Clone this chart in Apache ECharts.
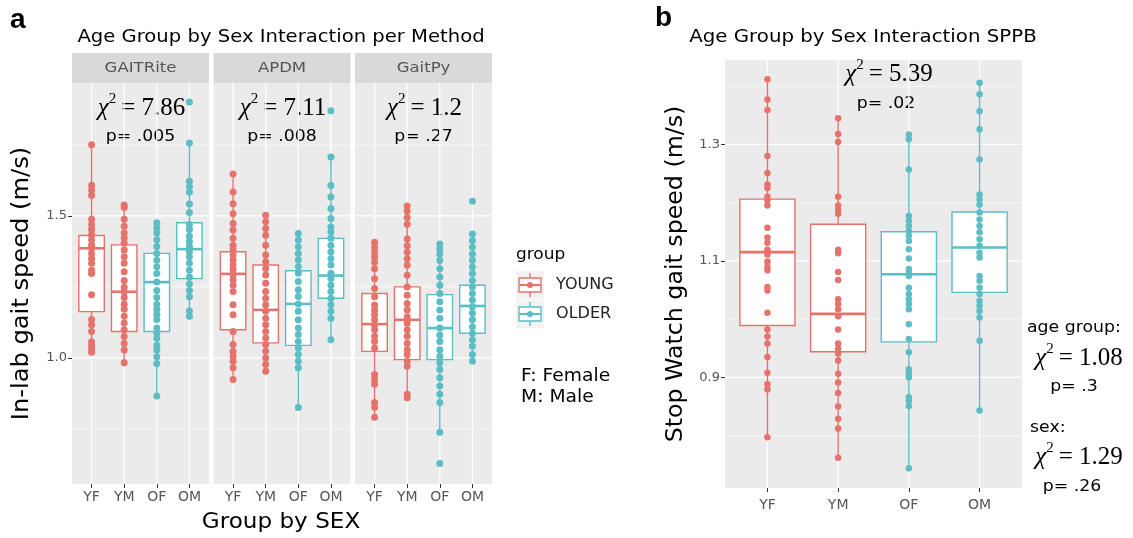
<!DOCTYPE html>
<html>
<head>
<meta charset="utf-8">
<script src="https://cdn.jsdelivr.net/npm/echarts@6/dist/echarts.min.js"></script>
<style>
  html, body { margin: 0; padding: 0; background: #fff; }
  #chart { width: 1133px; height: 538px; }
</style>
</head>
<body>
<div id="chart"></div>
<script>
// ---- data -------------------------------------------------------------
const categories = ['YF', 'YM', 'OF', 'OM'];
const methods = ['GAITRite', 'APDM', 'GaitPy'];

// in-lab gait speed (m/s), one value per participant
const gaitriteYF = [1.751, 1.608, 1.59, 1.572, 1.488, 1.47, 1.452, 1.434, 1.416, 1.398, 1.386, 1.368, 1.35, 1.333, 1.309, 1.297, 1.222, 1.135, 1.117, 1.093, 1.057, 1.045, 1.033, 1.02];
const gaitriteYM = [1.538, 1.53, 1.488, 1.464, 1.44, 1.422, 1.404, 1.38, 1.356, 1.333, 1.303, 1.273, 1.249, 1.233, 1.213, 1.189, 1.171, 1.147, 1.123, 1.099, 1.075, 1.051, 1.028, 0.983];
const gaitriteOF = [1.476, 1.458, 1.44, 1.416, 1.392, 1.368, 1.344, 1.321, 1.297, 1.267, 1.237, 1.213, 1.189, 1.171, 1.153, 1.135, 1.105, 1.087, 1.069, 1.045, 1.028, 1.004, 0.98, 0.866];
const gaitriteOM = [1.901, 1.757, 1.622, 1.602, 1.584, 1.542, 1.512, 1.47, 1.452, 1.428, 1.41, 1.392, 1.374, 1.356, 1.333, 1.309, 1.285, 1.261, 1.237, 1.215, 1.165, 1.147];

const apdmYF = [1.648, 1.584, 1.543, 1.508, 1.473, 1.45, 1.421, 1.397, 1.38, 1.362, 1.345, 1.327, 1.31, 1.292, 1.275, 1.257, 1.234, 1.187, 1.152, 1.093, 1.047, 1.023, 1.006, 0.988, 0.965, 0.924];
const apdmYM = [1.502, 1.479, 1.456, 1.432, 1.397, 1.362, 1.339, 1.315, 1.292, 1.263, 1.234, 1.21, 1.187, 1.164, 1.14, 1.117, 1.093, 1.07, 1.047, 1.023, 1.0, 0.977, 0.953];
const apdmOF = [1.438, 1.415, 1.391, 1.368, 1.345, 1.321, 1.298, 1.269, 1.24, 1.216, 1.19, 1.164, 1.134, 1.105, 1.082, 1.058, 1.035, 1.012, 0.988, 0.965, 0.825];
const apdmOM = [1.87, 1.707, 1.607, 1.567, 1.526, 1.491, 1.461, 1.444, 1.421, 1.397, 1.374, 1.35, 1.327, 1.298, 1.28, 1.257, 1.234, 1.21, 1.187, 1.164, 1.14, 1.064];

const gaitpyYF = [1.407, 1.39, 1.372, 1.355, 1.337, 1.314, 1.279, 1.244, 1.215, 1.186, 1.169, 1.151, 1.134, 1.116, 1.099, 1.076, 1.058, 1.035, 0.942, 0.924, 0.907, 0.843, 0.826, 0.791];
const gaitpyYM = [1.535, 1.517, 1.494, 1.471, 1.419, 1.395, 1.372, 1.349, 1.326, 1.291, 1.25, 1.221, 1.192, 1.169, 1.145, 1.122, 1.099, 1.076, 1.052, 1.029, 1.012, 0.988, 0.971, 0.872, 0.86];
const gaitpyOF = [1.401, 1.384, 1.366, 1.343, 1.314, 1.285, 1.256, 1.227, 1.198, 1.169, 1.14, 1.105, 1.081, 1.058, 1.029, 1.006, 0.983, 0.959, 0.93, 0.901, 0.872, 0.843, 0.738, 0.628];
const gaitpyOM = [1.552, 1.436, 1.413, 1.39, 1.366, 1.343, 1.32, 1.297, 1.273, 1.25, 1.227, 1.203, 1.18, 1.157, 1.134, 1.11, 1.087, 1.064, 1.041, 1.012, 0.988];

// stop-watch gait speed (m/s) from the SPPB
const sppbYF = [1.412, 1.377, 1.359, 1.28, 1.251, 1.231, 1.225, 1.21, 1.204, 1.195, 1.157, 1.14, 1.131, 1.119, 1.111, 1.099, 1.09, 1.084, 1.055, 1.049, 1.011, 0.982, 0.97, 0.958, 0.935, 0.908, 0.888, 0.879, 0.797];
const sppbYM = [1.345, 1.318, 1.304, 1.21, 1.195, 1.187, 1.181, 1.119, 1.113, 1.081, 1.067, 1.034, 1.026, 1.017, 1.005, 0.982, 0.958, 0.949, 0.941, 0.929, 0.906, 0.891, 0.873, 0.85, 0.829, 0.812, 0.762];
const sppbOF = [1.317, 1.309, 1.257, 1.177, 1.169, 1.16, 1.151, 1.143, 1.134, 1.12, 1.104, 1.086, 1.08, 1.074, 1.054, 1.043, 1.034, 1.026, 1.017, 0.991, 0.966, 0.943, 0.914, 0.906, 0.9, 0.866, 0.86, 0.851, 0.744];
const sppbOM = [1.406, 1.386, 1.357, 1.326, 1.274, 1.214, 1.206, 1.197, 1.183, 1.171, 1.16, 1.149, 1.137, 1.126, 1.114, 1.106, 1.074, 1.066, 1.054, 1.043, 1.031, 1.023, 1.014, 1.003, 0.963, 0.843];

// box statistics per group: [lower whisker, Q1, median, Q3, upper whisker]
const gaitriteBoxes = [[1.02, 1.163, 1.386, 1.431, 1.751], [0.983, 1.093, 1.233, 1.398, 1.538], [0.866, 1.093, 1.267, 1.368, 1.476], [1.147, 1.279, 1.383, 1.476, 1.757]];
const apdmBoxes = [[0.924, 1.099, 1.296, 1.374, 1.648], [0.953, 1.053, 1.169, 1.327, 1.502], [0.825, 1.044, 1.19, 1.307, 1.438], [1.064, 1.21, 1.29, 1.421, 1.707]];
const gaitpyBoxes = [[0.791, 1.023, 1.119, 1.227, 1.407], [0.86, 0.994, 1.134, 1.25, 1.535], [0.738, 0.994, 1.105, 1.223, 1.401], [0.988, 1.087, 1.183, 1.256, 1.436]];
const sppbBoxes = [[0.797, 0.989, 1.115, 1.206, 1.412], [0.762, 0.944, 1.009, 1.163, 1.345], [0.744, 0.961, 1.077, 1.15, 1.317], [0.843, 1.046, 1.123, 1.184, 1.406]];

// interaction tests
const methodChi = ['7.86', '7.11', '1.2'];
const methodP = ['.005', '.008', '.27'];
const sppbChi = '5.39';
const sppbP = '.02';
const ageGroupChi = '1.08';
const ageGroupP = '.3';
const sexChi = '1.29';
const sexP = '.26';

// axis ticks
const methodTicks = [1.0, 1.5];
const methodMinor = [0.75, 1.25, 1.75];
const methodRange = [0.556, 1.968];
const sppbTicks = [0.9, 1.1, 1.3];
const sppbMinor = [0.8, 1.0, 1.2, 1.4];
const sppbRange = [0.71, 1.445];

const groupNames = ['YOUNG', 'OLDER'];

// ---- styling ----------------------------------------------------------
const RED = '#E5736C';
const TEAL = '#5CBEC5';
const groupColor = [RED, RED, TEAL, TEAL];
const FONT = 'DejaVu Sans';
const SERIF = 'Liberation Serif';
const PANEL_BG = '#EBEBEB';
const STRIP_BG = '#D9D9D9';

const methodPoints = [
  [gaitriteYF, gaitriteYM, gaitriteOF, gaitriteOM],
  [apdmYF, apdmYM, apdmOF, apdmOM],
  [gaitpyYF, gaitpyYM, gaitpyOF, gaitpyOM]
];
const methodBoxes = [gaitriteBoxes, apdmBoxes, gaitpyBoxes];

const X_MIN = 0.4, X_MAX = 4.6, BOX_W = 0.78;

const panels = [
  { left: 72, top: 83, width: 137, height: 401, range: methodRange, ticks: methodTicks, minor: methodMinor,
    points: methodPoints[0], boxes: methodBoxes[0], showY: true, dot: 7, labelGap: 6 },
  { left: 213.5, top: 83, width: 137, height: 401, range: methodRange, ticks: methodTicks, minor: methodMinor,
    points: methodPoints[1], boxes: methodBoxes[1], showY: false, dot: 7, labelGap: 6 },
  { left: 355, top: 83, width: 137, height: 401, range: methodRange, ticks: methodTicks, minor: methodMinor,
    points: methodPoints[2], boxes: methodBoxes[2], showY: false, dot: 7, labelGap: 6 },
  { left: 725, top: 60, width: 297, height: 428, range: sppbRange, ticks: sppbTicks, minor: sppbMinor,
    points: [sppbYF, sppbYM, sppbOF, sppbOM], boxes: sppbBoxes, showY: true, dot: 6.5, labelGap: 10 }
];

function gridLineRenderer(range) {
  return function (params, api) {
    const dir = api.value(0), v = api.value(1), major = api.value(2);
    let p1, p2;
    if (dir === 0) { p1 = api.coord([X_MIN, v]); p2 = api.coord([X_MAX, v]); }
    else { p1 = api.coord([v, range[0]]); p2 = api.coord([v, range[1]]); }
    return {
      type: 'line', silent: true,
      shape: { x1: p1[0], y1: p1[1], x2: p2[0], y2: p2[1] },
      style: { stroke: '#FFFFFF', lineWidth: major ? 1.3 : 0.6 }
    };
  };
}

function boxRenderer(params, api) {
  const x = api.value(0);
  const lo = api.coord([x, api.value(1)]);
  const q1 = api.coord([x, api.value(2)]);
  const md = api.coord([x, api.value(3)]);
  const q3 = api.coord([x, api.value(4)]);
  const hi = api.coord([x, api.value(5)]);
  const half = api.size([BOX_W, 0])[0] / 2;
  const c = groupColor[api.value(6)];
  return {
    type: 'group',
    children: [
      { type: 'line', shape: { x1: lo[0], y1: lo[1], x2: q1[0], y2: q1[1] }, style: { stroke: c, lineWidth: 1.4 } },
      { type: 'line', shape: { x1: q3[0], y1: q3[1], x2: hi[0], y2: hi[1] }, style: { stroke: c, lineWidth: 1.4 } },
      { type: 'rect', shape: { x: q3[0] - half, y: q3[1], width: half * 2, height: q1[1] - q3[1] },
        style: { fill: '#FFFFFF', stroke: c, lineWidth: 1.4 } },
      { type: 'line', shape: { x1: md[0] - half, y1: md[1], x2: md[0] + half, y2: md[1] }, style: { stroke: c, lineWidth: 2.6 } }
    ]
  };
}

const grid = [], xAxis = [], yAxis = [], series = [];
panels.forEach(function (p, i) {
  grid.push({ left: p.left, top: p.top, width: p.width, height: p.height, show: true,
    backgroundColor: PANEL_BG, borderWidth: 0, containLabel: false });
  xAxis.push({
    gridIndex: i, type: 'value', min: X_MIN, max: X_MAX,
    axisLine: { show: false }, splitLine: { show: false },
    axisTick: { show: true, customValues: [1, 2, 3, 4], length: 4, lineStyle: { color: '#333', width: 1 } },
    axisLabel: { customValues: [1, 2, 3, 4], formatter: function (v) { return categories[Math.round(v) - 1]; },
      color: '#555', fontSize: 14, fontFamily: FONT, margin: p.labelGap }
  });
  yAxis.push({
    gridIndex: i, type: 'value', min: p.range[0], max: p.range[1],
    axisLine: { show: false }, splitLine: { show: false },
    axisTick: { show: p.showY, customValues: p.ticks, length: 4, lineStyle: { color: '#333', width: 1 } },
    axisLabel: { show: p.showY, customValues: p.ticks, formatter: function (v) { return v.toFixed(1); },
      color: '#555', fontSize: 13, fontFamily: FONT, margin: 5 }
  });

  const lines = [];
  p.ticks.forEach(function (v) { lines.push([0, v, 1]); });
  p.minor.forEach(function (v) { lines.push([0, v, 0]); });
  categories.forEach(function (c, k) { lines.push([1, k + 1, 1]); });
  series.push({ type: 'custom', xAxisIndex: i, yAxisIndex: i, z: 1, silent: true,
    renderItem: gridLineRenderer(p.range), data: lines });

  series.push({ type: 'custom', xAxisIndex: i, yAxisIndex: i, z: 2, silent: true,
    renderItem: boxRenderer,
    data: p.boxes.map(function (b, k) { return [k + 1, b[0], b[1], b[2], b[3], b[4], k]; }) });

  const pts = [];
  p.points.forEach(function (arr, k) {
    arr.forEach(function (v) { pts.push({ value: [k + 1, v], itemStyle: { color: groupColor[k] } }); });
  });
  series.push({ type: 'scatter', xAxisIndex: i, yAxisIndex: i, z: 3, silent: true,
    symbol: 'circle', symbolSize: p.dot, itemStyle: { opacity: 1 }, data: pts });
});

// ---- text and legend --------------------------------------------------
function chiText(x, y, value, size) {
  return {
    type: 'text', x: x, y: y, silent: true,
    style: {
      text: '{c|χ}{s|2}{e|= ' + value + '}',
      align: 'center', verticalAlign: 'middle',
      rich: {
        c: { fontFamily: SERIF, fontStyle: 'italic', fontSize: size, lineHeight: size + 4, verticalAlign: 'bottom', fill: '#000' },
        s: { fontFamily: SERIF, fontSize: Math.round(size * 0.6), lineHeight: Math.round(size * 0.6) + 2,
             verticalAlign: 'top', padding: [0, 5, 0, 0], fill: '#000' },
        e: { fontFamily: SERIF, fontSize: size, lineHeight: size + 4, verticalAlign: 'bottom', fill: '#000' }
      }
    }
  };
}
function plainText(x, y, text, size, opts) {
  opts = opts || {};
  return {
    type: 'text', x: x, y: y, silent: true, rotation: opts.rotation || 0,
    scaleX: opts.stretch || 1,
    style: { text: text, fontFamily: opts.family || FONT, fontSize: size, fontWeight: opts.weight || 'normal',
      fill: opts.color || '#000', align: opts.align || 'center', verticalAlign: 'middle' }
  };
}

const graphic = [];
graphic.push(plainText(10, 20, 'a', 28, { weight: 'bold', align: 'left', family: 'Liberation Sans' }));
graphic.push(plainText(655, 18, 'b', 28, { weight: 'bold', align: 'left', family: 'Liberation Sans' }));
graphic.push(plainText(281, 37, 'Age Group by Sex Interaction per Method', 17.5, { stretch: 1.12 }));
graphic.push(plainText(863, 37, 'Age Group by Sex Interaction SPPB', 17.5, { stretch: 1.13 }));

// axis titles
graphic.push(plainText(22, 283.5, 'In-lab gait speed (m/s)', 23, { rotation: Math.PI / 2, stretch: 1.05 }));
graphic.push(plainText(281, 522, 'Group by SEX', 22, { stretch: 1.05 }));
graphic.push(plainText(676, 274, 'Stop Watch gait speed (m/s)', 23, { rotation: Math.PI / 2, stretch: 1.03 }));

methods.forEach(function (m, i) {
  const p = panels[i];
  graphic.push({ type: 'rect', silent: true, shape: { x: p.left, y: 53, width: p.width, height: 30 }, style: { fill: STRIP_BG } });
  graphic.push(plainText(p.left + p.width / 2, 68, m, 14, { color: '#555', stretch: 1.18 }));
  graphic.push(chiText(p.left + p.width / 2 + 1, 106, methodChi[i], 25));
  graphic.push(plainText(p.left + p.width / 2, 137, 'p= ' + methodP[i], 16, { stretch: 1.08 }));
});

graphic.push(chiText(889, 72, sppbChi, 25));
graphic.push(plainText(886, 104, 'p= ' + sppbP, 16, { stretch: 1.08 }));

graphic.push(plainText(1027, 328, 'age group:', 16.5, { align: 'left', stretch: 1.05 }));
graphic.push(chiText(1079, 356, ageGroupChi, 25));
graphic.push(plainText(1074, 387, 'p= ' + ageGroupP, 16, { stretch: 1.08 }));
graphic.push(plainText(1030, 428, 'sex:', 16.5, { align: 'left', stretch: 1.05 }));
graphic.push(chiText(1079, 455, sexChi, 25));
graphic.push(plainText(1072, 487, 'p= ' + sexP, 16, { stretch: 1.08 }));

// legend: boxplot glyphs on grey keys
graphic.push(plainText(516, 255, 'group', 16, { align: 'left', stretch: 1.06 }));
groupNames.forEach(function (name, k) {
  const c = k === 0 ? RED : TEAL;
  const y0 = 271 + k * 29;
  graphic.push({ type: 'rect', silent: true, shape: { x: 516, y: y0, width: 28, height: 28 }, style: { fill: '#F2F2F2' } });
  graphic.push({ type: 'line', silent: true, shape: { x1: 530, y1: y0 + 2, x2: 530, y2: y0 + 26 }, style: { stroke: c, lineWidth: 1.4 } });
  graphic.push({ type: 'rect', silent: true, shape: { x: 519, y: y0 + 7, width: 22, height: 14 }, style: { fill: '#fff', stroke: c, lineWidth: 1.4 } });
  graphic.push({ type: 'line', silent: true, shape: { x1: 519, y1: y0 + 14, x2: 541, y2: y0 + 14 }, style: { stroke: c, lineWidth: 2 } });
  graphic.push({ type: 'circle', silent: true, shape: { cx: 530, cy: y0 + 14, r: 3 }, style: { fill: c } });
  graphic.push(plainText(556, y0 + 14, name, 15, { align: 'left', color: '#222', stretch: 1.07 }));
});
graphic.push(plainText(521, 377, 'F: Female', 17, { align: 'left', stretch: 1.1 }));
graphic.push(plainText(521, 398, 'M: Male', 17, { align: 'left', stretch: 1.1 }));

const chart = echarts.init(document.getElementById('chart'), null, { renderer: 'canvas' });
chart.setOption({
  animation: false,
  backgroundColor: '#FFFFFF',
  grid: grid,
  xAxis: xAxis,
  yAxis: yAxis,
  series: series,
  graphic: graphic
});
</script>
</body>
</html>
